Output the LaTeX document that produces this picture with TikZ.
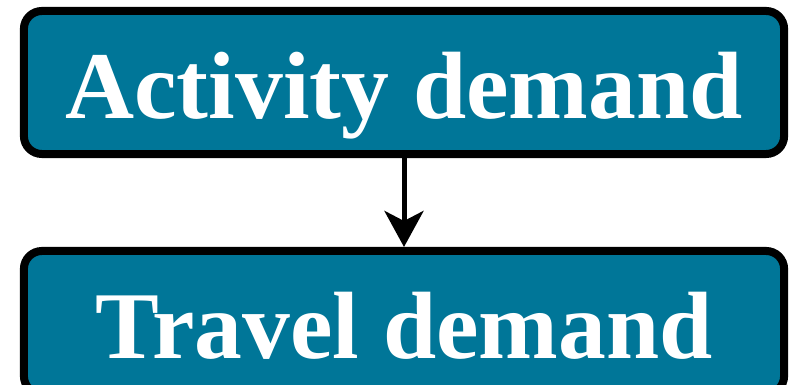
\documentclass[tikz,border=0pt]{standalone}
\usepackage{fontspec}
\setmainfont{Liberation Serif}
\usetikzlibrary{arrows.meta}
\definecolor{boxteal}{RGB}{0,118,152}
\tikzset{
  demandbox/.style={draw=black, line width=0.2cm, fill=boxteal, rounded corners=0.45cm,
    minimum width=19cm, minimum height=3.575cm, text=white, text height=1.775cm, text depth=0pt,
    font=\fontsize{68}{80}\selectfont\bfseries},
}
\begin{document}
\begin{tikzpicture}[x=0.025cm, y=-0.025cm]
        \useasboundingbox (0,0) rectangle (789,385);
        \clip (0,0) rectangle (789,385);

        % === Boxes ===
        \node[demandbox] (activity) at (404, 82.5) {Activity demand};
        \node[demandbox] (travel) at (404, 322.5) {Travel demand};

        % Freccia
        \draw[-{Stealth[length=0.9cm, width=0.975cm, inset=0.25cm]}, line width=0.125cm] (activity.south) -- (travel.north);

    \end{tikzpicture}
\end{document}
